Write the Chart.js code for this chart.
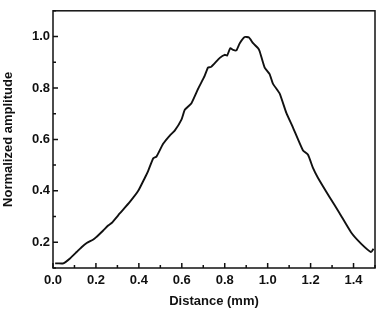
<!DOCTYPE html>
<html>
<head>
<meta charset="utf-8">
<script src="https://cdn.jsdelivr.net/npm/chart.js@4"></script>
<style>
  html, body { margin: 0; padding: 0; background: #fff; }
  #wrap { width: 383px; height: 309px; }
</style>
</head>
<body>
<div id="wrap"><canvas id="profileChart"></canvas></div>
<script>
// values
const distance = [0.01, 0.023, 0.048, 0.079, 0.11, 0.133, 0.157, 0.186, 0.2, 0.234, 0.257, 0.273,
  0.312, 0.358, 0.397, 0.428, 0.443, 0.467, 0.482, 0.513, 0.544, 0.567, 0.599, 0.614, 0.645,
  0.676, 0.707, 0.722, 0.737, 0.777, 0.8, 0.811, 0.826, 0.839, 0.854, 0.87, 0.893, 0.913,
  0.932, 0.955, 0.963, 0.986, 1.009, 1.025, 1.056, 1.087, 1.118, 1.164, 1.188, 1.211, 1.234,
  1.288, 1.335, 1.389, 1.436, 1.482, 1.493];
const amplitude = [0.118, 0.118, 0.118, 0.137, 0.162, 0.181, 0.197, 0.21, 0.219, 0.246, 0.265, 0.275,
  0.313, 0.357, 0.40, 0.451, 0.477, 0.527, 0.533, 0.583, 0.615, 0.634, 0.678, 0.715, 0.741,
  0.797, 0.848, 0.879, 0.882, 0.917, 0.929, 0.926, 0.955, 0.948, 0.946, 0.974, 0.998, 0.996,
  0.974, 0.955, 0.942, 0.879, 0.854, 0.816, 0.778, 0.703, 0.646, 0.558, 0.540, 0.489, 0.451,
  0.376, 0.313, 0.238, 0.194, 0.162, 0.175];

const xRange = [0, 1.5];
const yRange = [0.1, 1.1];

const ink = '#111';
const fontFamily = '"Liberation Sans", Arial, sans-serif';

// every other tick (0.2 steps) is a labelled major tick
function isMajor(v) {
  return Math.round(v * 10) % 2 === 0;
}

// frame + inward ticks like the original plot
const frameTicks = {
  id: 'frameTicks',
  afterDraw(chart) {
    const ctx = chart.ctx;
    const a = chart.chartArea;
    const xs = chart.scales.x, ys = chart.scales.y;
    ctx.save();
    ctx.strokeStyle = ink;
    ctx.lineWidth = 1.5;
    ctx.beginPath();
    xs.ticks.forEach(t => {
      const px = xs.getPixelForValue(t.value);
      const len = isMajor(t.value) ? 5 : 3;
      ctx.moveTo(px, a.bottom);
      ctx.lineTo(px, a.bottom - len);
    });
    ys.ticks.forEach(t => {
      const py = ys.getPixelForValue(t.value);
      const len = isMajor(t.value) ? 5 : 3;
      ctx.moveTo(a.left, py);
      ctx.lineTo(a.left + len, py);
    });
    ctx.stroke();
    ctx.strokeRect(a.left, a.top, a.right - a.left, a.bottom - a.top);
    ctx.restore();
  }
};

const ctx = document.getElementById('profileChart').getContext('2d');
new Chart(ctx, {
  type: 'scatter',
  data: {
    datasets: [{
      data: distance.map((d, i) => ({ x: d, y: amplitude[i] })),
      showLine: true,
      borderColor: ink,
      borderWidth: 1.9,
      pointRadius: 0,
      tension: 0.15
    }]
  },
  options: {
    responsive: true,
    maintainAspectRatio: false,
    animation: false,
    layout: { padding: { top: 5, right: 8, left: 0, bottom: 0 } },
    plugins: {
      legend: { display: false },
      tooltip: { enabled: false }
    },
    scales: {
      x: {
        type: 'linear',
        min: xRange[0],
        max: xRange[1],
        afterFit(scale) { scale.height = 41; },
        grid: { display: false, drawTicks: false },
        border: { display: false },
        ticks: {
          stepSize: 0.1,
          padding: 5,
          color: ink,
          font: { family: fontFamily, size: 13, weight: 'bold' },
          maxRotation: 0,
          autoSkip: false,
          callback: v => isMajor(v) ? v.toFixed(1) : ''
        },
        title: {
          display: true,
          text: 'Distance (mm)',
          color: ink,
          padding: 0,
          font: { family: fontFamily, size: 13, weight: 'bold' }
        }
      },
      y: {
        type: 'linear',
        min: yRange[0],
        max: yRange[1],
        afterFit(scale) { scale.width = 53; },
        grid: { display: false, drawTicks: false },
        border: { display: false },
        ticks: {
          stepSize: 0.1,
          padding: 3,
          color: ink,
          font: { family: fontFamily, size: 13, weight: 'bold' },
          autoSkip: false,
          callback: v => (isMajor(v) && v > 0.15 && v < 1.05) ? v.toFixed(1) : ''
        },
        title: {
          display: true,
          text: 'Normalized amplitude',
          color: ink,
          padding: 1,
          font: { family: fontFamily, size: 13, weight: 'bold' }
        }
      }
    }
  },
  plugins: [frameTicks]
});
</script>
</body>
</html>
